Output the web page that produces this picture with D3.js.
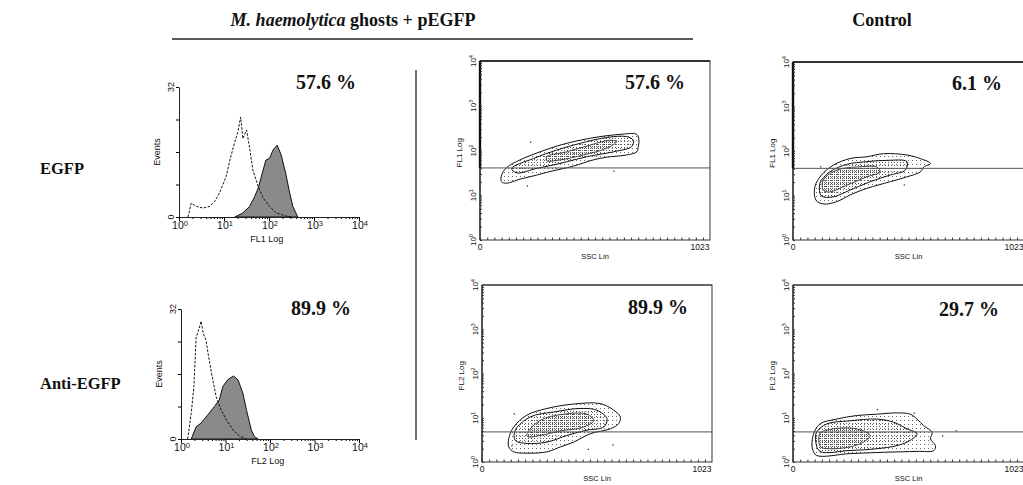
<!DOCTYPE html>
<html>
<head>
<meta charset="utf-8">
<script src="https://cdn.jsdelivr.net/npm/d3@7"></script>
<style>
  body { margin: 0; background: #fff; }
  text { fill: #111; }
</style>
</head>
<body>
<svg id="fig" width="1023" height="485"></svg>
<script>
// ---- histogram data: [log10 fluorescence, events] ----
let fl1Control = [[0.2,0],[0.27,3.4],[0.39,2.6],[0.53,2.2],[0.68,2.6],[0.79,3.8],[0.9,5.9],[1.05,10],[1.13,14],
  [1.24,18.5],[1.31,21],[1.37,24.6],[1.42,19.3],[1.5,21.4],[1.56,17.7],[1.64,11.6],[1.76,7.5],[1.87,4.7],
  [2.01,2.6],[2.16,1],[2.39,0.2],[2.53,0]];
let fl1Ghosts = [[1.24,0],[1.42,1],[1.57,2.6],[1.68,5],[1.76,7.1],[1.85,10.8],[1.93,14],[2.01,14.4],[2.09,16.5],
  [2.18,17.7],[2.27,15.3],[2.37,10.8],[2.46,5.9],[2.53,2.6],[2.64,0]];
let fl2Control = [[0.15,0],[0.23,6.3],[0.29,12.9],[0.34,25],[0.41,27.3],[0.45,29],[0.5,26],[0.56,24.4],[0.62,20.3],
  [0.7,15.4],[0.79,10.4],[0.9,7.2],[1.02,4.7],[1.17,2.2],[1.32,0.7],[1.47,0]];
let fl2Ghosts = [[0.23,0],[0.34,3],[0.45,3.9],[0.6,5.9],[0.75,8],[0.86,9.6],[0.94,12.9],[1.05,14.6],[1.18,15.5],
  [1.28,14.6],[1.39,11.3],[1.47,7.2],[1.58,2.2],[1.65,0.6],[1.73,0]];

let histTicksY = [0, 8, 16, 24, 32];
let decades = [0, 1, 2, 3, 4];

// ---- contour data: [SSC lin, log10 fluorescence] ----
let c1Outer = [[96,1.45],[119,1.62],[178,1.79],[267,1.97],[356,2.12],[445,2.23],[534,2.31],[623,2.36],[697,2.36],
  [707,2.23],[704,2.09],[697,1.97],[652,1.9],[563,1.85],[504,1.79],[415,1.65],[311,1.53],[252,1.45],[178,1.36],
  [119,1.27],[96,1.3]];
let c1Mid = [[141,1.6],[237,1.82],[341,2.01],[445,2.16],[563,2.29],[652,2.31],[682,2.23],[675,2.09],[593,1.97],
  [474,1.86],[356,1.71],[252,1.6],[163,1.5]];
let c1Inner = [[297,1.86],[385,1.97],[489,2.12],[578,2.23],[608,2.2],[563,2.05],[460,1.9],[356,1.79],[297,1.77]];
let c1Dots = [[222,2.2],[593,1.55],[208,1.22],[415,1.95]];

let c2Outer = [[119,0.53],[141,0.79],[200,1.06],[289,1.21],[408,1.31],[526,1.32],[586,1.17],[615,1.02],[608,0.87],
  [571,0.75],[482,0.64],[408,0.45],[348,0.34],[289,0.23],[200,0.2],[141,0.23],[119,0.34]];
let c2Mid = [[148,0.72],[215,1.02],[319,1.13],[437,1.21],[511,1.17],[556,0.98],[541,0.79],[467,0.72],[378,0.6],
  [289,0.45],[200,0.42],[148,0.49]];
let c2Inner = [[200,0.64],[259,0.94],[363,1.08],[467,1.08],[497,0.94],[452,0.79],[348,0.7],[259,0.6],[203,0.57]];
let c2Dots = [[141,1.1],[130,0.38],[580,0.4],[470,0.3]];

let c3Outer = [[97,1.2],[126,1.46],[178,1.68],[252,1.83],[327,1.87],[401,1.94],[505,1.91],[564,1.83],[609,1.72],
  [579,1.64],[564,1.53],[505,1.42],[431,1.31],[327,1.16],[252,1.01],[193,0.86],[134,0.81],[101,0.9]];
let c3Mid = [[119,1.27],[163,1.53],[238,1.7],[327,1.76],[416,1.79],[505,1.76],[497,1.57],[431,1.46],[342,1.31],
  [252,1.12],[178,0.97],[126,0.99]];
let c3Inner = [[134,1.35],[193,1.57],[282,1.64],[371,1.64],[386,1.53],[327,1.42],[238,1.23],[163,1.08],[134,1.12]];
let c3Dots = [[120,1.66],[490,1.25],[560,1.62]];

let c4Outer = [[89,0.6],[119,0.86],[193,0.97],[282,1.05],[371,1.08],[460,1.11],[520,1.08],[549,0.97],[579,0.82],
  [616,0.67],[609,0.52],[631,0.37],[624,0.26],[549,0.24],[401,0.22],[252,0.19],[104,0.15],[86,0.3]];
let c4Mid = [[104,0.67],[149,0.86],[252,0.93],[371,0.97],[445,0.9],[505,0.75],[549,0.64],[520,0.49],[460,0.37],
  [371,0.3],[252,0.26],[119,0.24],[101,0.45]];
let c4Inner = [[119,0.64],[178,0.75],[282,0.75],[342,0.6],[312,0.45],[252,0.34],[163,0.3],[122,0.34]];
let c4Dots = [[371,1.2],[534,1.12],[720,0.72],[660,0.6]];

let histLabels = ["57.6 %", "89.9 %"];
let dotLabels = ["57.6 %", "89.9 %", "6.1 %", "29.7 %"];
let gateFL1 = 1.61, gateFL2 = 0.68;

const svg = d3.select("#fig");
const serif = "'Liberation Serif', 'Times New Roman', serif";
const sans = "'Liberation Sans', Arial, sans-serif";

// "10" with a raised exponent
function powerLabel(t, d) {
  t.text("10");
  t.append("tspan").attr("font-size", "0.72em").attr("dy", "-0.45em").text(d);
}

// stipple patterns for contour bands
const defs = svg.append("defs");
function pattern(id, size, r, col) {
  let p = defs.append("pattern").attr("id", id).attr("patternUnits", "userSpaceOnUse")
    .attr("width", size).attr("height", size);
  p.append("rect").attr("width", r).attr("height", r).attr("fill", col);
}
pattern("sparse", 4, 1, "#6a6a6a");
pattern("medium", 3, 1, "#555");
pattern("dense", 2, 1, "#555");

// headings
svg.append("text").attr("x", 353).attr("y", 26).attr("text-anchor", "middle")
  .attr("font-family", serif).attr("font-size", 18).attr("font-weight", "bold")
  .call(t => {
    t.append("tspan").attr("font-style", "italic").text("M. haemolytica");
    t.append("tspan").text(" ghosts + pEGFP");
  });
svg.append("line").attr("x1", 172).attr("x2", 693).attr("y1", 39).attr("y2", 39)
  .attr("stroke", "#222").attr("stroke-width", 1.5);
svg.append("text").attr("x", 882).attr("y", 26).attr("text-anchor", "middle")
  .attr("font-family", serif).attr("font-size", 18).attr("font-weight", "bold").text("Control");
svg.append("text").attr("x", 40).attr("y", 174).attr("font-family", serif).attr("font-size", 16.5)
  .attr("font-weight", "bold").text("EGFP");
svg.append("text").attr("x", 40).attr("y", 389).attr("font-family", serif).attr("font-size", 16.5)
  .attr("font-weight", "bold").text("Anti-EGFP");
svg.append("line").attr("x1", 416).attr("x2", 416).attr("y1", 70).attr("y2", 440)
  .attr("stroke", "#222").attr("stroke-width", 1.3);

// ---- histograms ----
function drawHist(cfg) {
  let x = d3.scaleLinear().domain([0, 4]).range([cfg.x0, cfg.x1]);
  let y = d3.scaleLinear().domain([0, 32]).range([cfg.yBase, cfg.yTop]);
  let g = svg.append("g");

  let area = d3.area().x(d => x(d[0])).y0(y(0)).y1(d => y(d[1]));
  g.append("path").datum(cfg.filled).attr("d", area)
    .attr("fill", "#8a8a8a").attr("stroke", "#111").attr("stroke-width", 1);
  let line = d3.line().x(d => x(d[0])).y(d => y(d[1]));
  g.append("path").datum(cfg.dashed).attr("d", line)
    .attr("fill", "none").attr("stroke", "#111").attr("stroke-width", 1).attr("stroke-dasharray", "2.5,1.5");

  // axes
  let minor = [];
  decades.slice(0, 4).forEach(dd => d3.range(2, 10).forEach(k => minor.push(dd + Math.log10(k))));
  g.append("g").attr("transform", `translate(0,${cfg.yBase})`)
    .call(d3.axisBottom(x).tickValues(minor).tickSize(2).tickFormat(""))
    .call(a => a.select(".domain").remove());
  g.append("g").attr("transform", `translate(0,${cfg.yBase})`)
    .call(d3.axisBottom(x).tickValues(decades).tickSize(4).tickSizeOuter(0).tickFormat(""));
  g.append("g").attr("transform", `translate(${cfg.x0},0)`)
    .call(d3.axisLeft(y).tickValues(histTicksY).tickSize(3).tickSizeOuter(0).tickFormat(""));
  g.selectAll(".domain").attr("stroke", "#222");

  g.selectAll(".xl").data(decades).enter().append("text")
    .attr("x", d => x(d) + 1).attr("y", cfg.yBase + 12).attr("text-anchor", "middle")
    .attr("font-family", sans).attr("font-size", 10.5).each(function(d) { powerLabel(d3.select(this), d); });
  g.append("text").attr("x", x(1.95)).attr("y", cfg.yBase + 25).attr("text-anchor", "middle")
    .attr("font-family", sans).attr("font-size", 9).text(cfg.xTitle);
  [0, 32].forEach(v => {
    g.append("text").attr("transform", `translate(${cfg.x0 - 5},${y(v)}) rotate(-90)`)
      .attr("text-anchor", "middle").attr("font-family", sans).attr("font-size", 9).text(v);
  });
  g.append("text").attr("transform", `translate(${cfg.x0 - 19},${y(16)}) rotate(-90)`)
    .attr("text-anchor", "middle").attr("font-family", sans).attr("font-size", 9).text("Events");
  g.append("text").attr("x", cfg.lx).attr("y", cfg.ly).attr("text-anchor", "middle")
    .attr("font-family", serif).attr("font-size", 20).attr("font-weight", "bold").text(cfg.label);
}

drawHist({ x0: 179, x1: 359, yTop: 87, yBase: 217, dashed: fl1Control, filled: fl1Ghosts,
  xTitle: "FL1 Log", label: histLabels[0], lx: 326, ly: 89 });
drawHist({ x0: 181, x1: 359, yTop: 309, yBase: 439, dashed: fl2Control, filled: fl2Ghosts,
  xTitle: "FL2 Log", label: histLabels[1], lx: 321, ly: 315 });

// ---- contour dot plots ----
function drawContour(cfg) {
  let x = d3.scaleLinear().domain([0, 1023]).range([cfg.left, cfg.right]);
  let y = d3.scaleLinear().domain([0, 4]).range([cfg.bottom, cfg.top]);
  let g = svg.append("g");
  let shape = d3.line().x(d => x(d[0])).y(d => y(d[1])).curve(d3.curveCatmullRomClosed.alpha(0.5));

  g.append("path").datum(cfg.outer).attr("d", shape)
    .attr("fill", "url(#sparse)").attr("stroke", "#111").attr("stroke-width", 1);
  g.append("path").datum(cfg.mid).attr("d", shape)
    .attr("fill", "url(#medium)").attr("stroke", "#111").attr("stroke-width", 1);
  g.append("path").datum(cfg.inner).attr("d", shape)
    .attr("fill", "url(#dense)").attr("stroke", "#333").attr("stroke-width", 0.9);
  g.selectAll(".dot").data(cfg.dots).enter().append("rect")
    .attr("x", d => x(d[0])).attr("y", d => y(d[1])).attr("width", 1.3).attr("height", 1.3).attr("fill", "#333");

  // gate
  g.append("line").attr("x1", cfg.left).attr("x2", cfg.right).attr("y1", y(cfg.gate)).attr("y2", y(cfg.gate))
    .attr("stroke", "#555").attr("stroke-width", 1);

  // frame
  g.append("rect").attr("x", cfg.left).attr("y", cfg.top)
    .attr("width", cfg.right - cfg.left).attr("height", cfg.bottom - cfg.top)
    .attr("fill", "none").attr("stroke", "#333").attr("stroke-width", 1);
  g.append("line").attr("x1", cfg.left).attr("x2", cfg.right).attr("y1", cfg.top).attr("y2", cfg.top)
    .attr("stroke", "#333").attr("stroke-width", cfg.heavy ? 2 : 1);
  g.append("line").attr("x1", cfg.left).attr("x2", cfg.left).attr("y1", cfg.top).attr("y2", cfg.bottom)
    .attr("stroke", "#222").attr("stroke-width", 1.2);
  if (cfg.heavy) {
    g.append("line").attr("x1", cfg.left).attr("x2", cfg.left).attr("y1", cfg.top).attr("y2", y(cfg.gate))
      .attr("stroke", "#111").attr("stroke-width", 2.4);
  }

  // ticks
  g.append("g").attr("transform", `translate(0,${cfg.bottom})`)
    .call(d3.axisBottom(x).tickValues(d3.range(0, 1024, 32)).tickSize(-2.5).tickSizeOuter(0).tickFormat(""))
    .call(a => a.select(".domain").remove());
  let minor = [];
  decades.slice(0, 4).forEach(dd => d3.range(1, 10).forEach(k => minor.push(dd + Math.log10(k))));
  g.append("g").attr("transform", `translate(${cfg.left},0)`)
    .call(d3.axisRight(y).tickValues(minor).tickSize(2).tickSizeOuter(0).tickFormat(""))
    .call(a => a.select(".domain").remove());
  g.selectAll(".tick line").attr("stroke", "#333");

  // labels
  g.append("text").attr("x", x(0)).attr("y", cfg.bottom + 10).attr("text-anchor", "middle")
    .attr("font-family", sans).attr("font-size", 8.5).text("0");
  g.append("text").attr("x", x(1023) - 10).attr("y", cfg.bottom + 10).attr("text-anchor", "middle")
    .attr("font-family", sans).attr("font-size", 8.5).text("1023");
  g.append("text").attr("x", x(512)).attr("y", cfg.bottom + 19).attr("text-anchor", "middle")
    .attr("font-family", sans).attr("font-size", 7.5).text("SSC Lin");
  decades.forEach(d => {
    g.append("text").attr("transform", `translate(${cfg.left - 4},${y(d)}) rotate(-90)`)
      .attr("text-anchor", "middle").attr("font-family", sans).attr("font-size", 8)
      .call(t => powerLabel(t, d));
  });
  g.append("text").attr("transform", `translate(${cfg.left - 18},${y(1.95)}) rotate(-90)`)
    .attr("text-anchor", "middle").attr("font-family", sans).attr("font-size", 8).text(cfg.yTitle);
  g.append("text").attr("x", cfg.lx).attr("y", cfg.ly).attr("text-anchor", "middle")
    .attr("font-family", serif).attr("font-size", 20).attr("font-weight", "bold").text(cfg.label);
}

drawContour({ left: 480, right: 710, top: 61, bottom: 240, outer: c1Outer, mid: c1Mid, inner: c1Inner,
  dots: c1Dots, gate: gateFL1, heavy: true, yTitle: "FL1 Log", label: dotLabels[0], lx: 655, ly: 89 });
drawContour({ left: 482, right: 712, top: 285, bottom: 462, outer: c2Outer, mid: c2Mid, inner: c2Inner,
  dots: c2Dots, gate: gateFL2, heavy: false, yTitle: "FL2 Log", label: dotLabels[1], lx: 658, ly: 314 });
drawContour({ left: 793, right: 1024, top: 62, bottom: 240, outer: c3Outer, mid: c3Mid, inner: c3Inner,
  dots: c3Dots, gate: gateFL1, heavy: true, yTitle: "FL1 Log", label: dotLabels[2], lx: 977, ly: 90 });
drawContour({ left: 793, right: 1024, top: 285, bottom: 462, outer: c4Outer, mid: c4Mid, inner: c4Inner,
  dots: c4Dots, gate: gateFL2, heavy: false, yTitle: "FL2 Log", label: dotLabels[3], lx: 969, ly: 316 });
</script>
</body>
</html>
